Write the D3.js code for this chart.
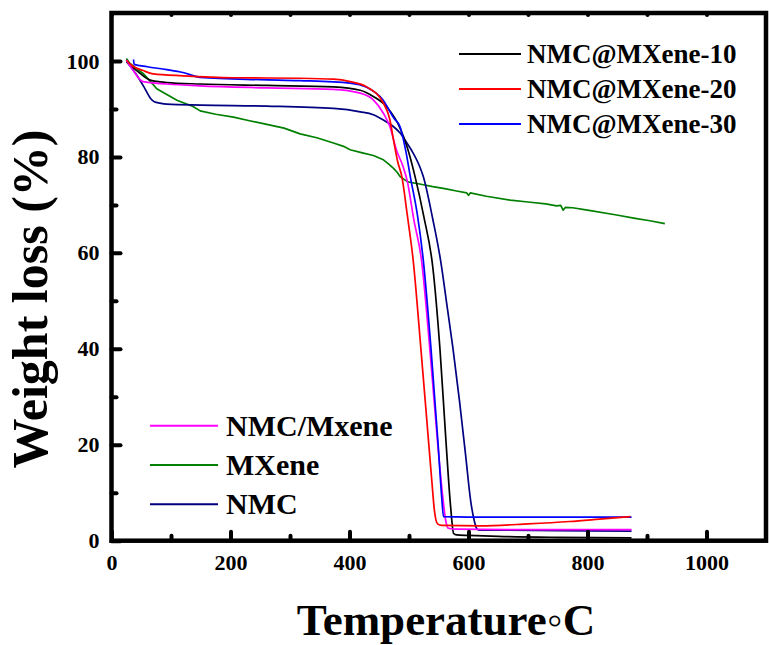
<!DOCTYPE html>
<html><head><meta charset="utf-8">
<script src="https://cdn.jsdelivr.net/npm/d3@7"></script>
<style>
body{margin:0;background:#fff}
svg{display:block}
</style>
</head><body>
<svg id="chart" width="769" height="645"></svg>
<script>
// ---------- data ----------
const xMajorTicks = [0, 200, 400, 600, 800, 1000];
const xMinorTicks = [100, 300, 500, 700, 900];
const yMajorTicks = [0, 20, 40, 60, 80, 100];
const yMinorTicks = [10, 30, 50, 70, 90];

const seriesNames = ["NMC@MXene-10", "NMC@MXene-20", "NMC@MXene-30", "NMC/Mxene", "MXene", "NMC"];
const seriesColors = ["#000000", "#ff0000", "#0000ff", "#ff00ff", "#008000", "#000080"];

const tempM10 = [25, 35, 48, 65, 93, 149, 261, 373, 418, 440, 462, 485, 497, 510, 525, 540, 552, 562, 570, 575, 580, 600, 650, 750, 874];
const wM10    = [100.2, 98.8, 97.4, 96.0, 95.5, 95.2, 94.9, 94.6, 93.9, 92.6, 90.5, 86.0, 82.0, 76.0, 67.5, 57.0, 40.0, 21.0, 7.0, 1.5, 1.2, 1.1, 0.9, 0.7, 0.6];

const tempM20 = [25, 35, 53, 70, 121, 205, 317, 373, 401, 429, 457, 468, 474, 481, 488, 497, 507, 520, 530, 538, 543, 548, 555, 620, 700, 770, 830, 872];
const wM20    = [100.1, 99.0, 98.0, 97.3, 96.9, 96.5, 96.4, 96.2, 95.7, 94.6, 91.2, 87.7, 83.5, 79.0, 75.9, 68.0, 58.5, 40.0, 25.0, 13.0, 6.0, 3.5, 3.2, 3.1, 3.5, 4.0, 4.6, 5.0];

const tempM30 = [37, 38, 60, 93, 120, 149, 250, 317, 401, 429, 456, 475, 485, 495, 502, 514, 524, 537, 549, 555, 558, 600, 874];
const wM30    = [100.3, 99.3, 98.8, 98.2, 97.6, 96.6, 96.1, 95.9, 95.4, 94.5, 91.9, 88.0, 86.3, 81.0, 76.0, 68.0, 58.5, 40.0, 20.0, 9.0, 5.0, 4.9, 4.9];

const tempMix = [25, 35, 53, 93, 149, 261, 373, 418, 440, 457, 468, 479, 490, 497, 508, 521, 535, 547, 556, 562, 566, 580, 700, 874];
const wMix    = [100.2, 98.3, 95.7, 95.2, 94.8, 94.4, 94.1, 93.3, 91.9, 89.1, 86.3, 81.4, 78.0, 75.0, 67.0, 58.5, 40.0, 22.0, 10.0, 4.0, 2.6, 2.4, 2.3, 2.3];

const tempMX = [25, 30, 40, 53, 65, 76, 93, 110, 137, 149, 175, 205, 230, 261, 290, 317, 345, 373, 390, 401, 420, 440, 457, 465, 474, 480, 485, 498, 520, 540, 560, 580, 597, 600, 603, 630, 670, 700, 730, 748, 755, 759, 763, 775, 800, 849, 880, 905, 930];
const wMX    = [100.5, 99.6, 98.6, 97.4, 95.8, 94.2, 93.0, 91.8, 90.5, 89.6, 88.9, 88.3, 87.6, 86.8, 86.0, 84.8, 84.0, 82.9, 82.2, 81.5, 80.9, 80.3, 79.4, 78.6, 77.6, 76.8, 75.9, 74.8, 74.3, 73.8, 73.4, 72.9, 72.5, 72.0, 72.5, 71.8, 71.0, 70.6, 70.2, 69.8, 69.9, 68.9, 69.5, 69.4, 68.9, 67.9, 67.2, 66.7, 66.1];

const tempNMC = [25, 40, 55, 65, 72, 81.5, 93, 150, 261, 373, 418, 440, 457, 472, 485, 497, 507, 518, 524, 540, 553, 565, 574, 585, 595, 604, 610, 614, 618, 650, 750, 874];
const wNMC    = [99.9, 97.5, 94.5, 92.3, 91.5, 91.2, 91.0, 90.8, 90.6, 90.1, 89.4, 88.8, 87.7, 86.5, 85.0, 82.8, 80.8, 78.0, 75.9, 67.0, 58.5, 48.0, 40.0, 29.0, 18.0, 8.0, 4.0, 2.5, 2.2, 2.2, 2.1, 2.0];

const seriesTemps = [tempM10, tempM20, tempM30, tempMix, tempMX, tempNMC];
const seriesWeights = [wM10, wM20, wM30, wMix, wMX, wNMC];

const legendTop = [0, 1, 2];
const legendBottom = [3, 4, 5];

// ---------- drawing ----------
const FONT = "'Liberation Serif', 'Times New Roman', serif";
const svg = d3.select("#chart");
const x = d3.scaleLinear().domain([0, 1100]).range([111.5, 766]);
const y = d3.scaleLinear().domain([0, 110]).range([540.7, 13]);

svg.append("clipPath").attr("id", "clip").append("rect")
  .attr("x", x(0)).attr("y", y(110)).attr("width", x(1100) - x(0)).attr("height", y(0) - y(110));

const smooth = d3.line().x(d => x(d[0])).y(d => y(d[1])).curve(d3.curveMonotoneX);
const straight = d3.line().x(d => x(d[0])).y(d => y(d[1]));
const gLines = svg.append("g").attr("clip-path", "url(#clip)");
[4, 5, 0, 3, 2, 1].forEach(i => {
  const pts = seriesTemps[i].map((t, k) => [t, seriesWeights[i][k]]);
  gLines.append("path").attr("d", (i === 4 ? straight : smooth)(pts)).attr("fill", "none")
    .attr("stroke", seriesColors[i]).attr("stroke-width", 1.7).attr("stroke-linejoin", "round");
});

function styleAxis(g) {
  g.attr("font-family", null).attr("font-size", null);
  g.select(".domain").remove();
  g.selectAll(".tick line").attr("stroke", "#000").attr("stroke-width", 4).attr("stroke-linecap", "round");
  g.selectAll(".tick text").style("font-family", FONT).style("font-weight", "bold").style("font-size", "22px").attr("fill", "#000");
}

svg.append("g").attr("transform", `translate(0,${y(0)})`)
  .call(d3.axisBottom(x).tickValues(xMajorTicks).tickSize(-9).tickPadding(14).tickFormat(d3.format("d")))
  .call(styleAxis);
svg.append("g").attr("transform", `translate(0,${y(0)})`)
  .call(d3.axisBottom(x).tickValues(xMinorTicks).tickSize(-5).tickFormat(""))
  .call(styleAxis);
svg.append("g").attr("transform", `translate(0,${y(110)})`)
  .call(d3.axisTop(x).tickValues(xMajorTicks.concat(xMinorTicks)).tickSize(-2).tickFormat(""))
  .call(styleAxis);
svg.append("g").attr("transform", `translate(${x(0)},0)`)
  .call(d3.axisLeft(y).tickValues(yMajorTicks).tickSize(-9).tickPadding(12).tickFormat(d3.format("d")))
  .call(styleAxis);
svg.append("g").attr("transform", `translate(${x(0)},0)`)
  .call(d3.axisLeft(y).tickValues(yMinorTicks).tickSize(-5).tickFormat(""))
  .call(styleAxis);

svg.append("rect").attr("x", x(0)).attr("y", y(110)).attr("width", x(1100) - x(0)).attr("height", y(0) - y(110))
  .attr("fill", "none").attr("stroke", "#000").attr("stroke-width", 4.5);

function label(sel, size) {
  return sel.style("font-family", FONT).style("font-weight", "bold").style("font-size", size + "px").attr("fill", "#000");
}

label(svg.append("text").attr("x", 446).attr("y", 635).attr("text-anchor", "middle"), 45).text("Temperature\u25E6C");
label(svg.append("text").attr("transform", "translate(47,299) rotate(-90)").attr("text-anchor", "middle"), 50).text("Weight loss (%)");

const lgTop = svg.append("g");
legendTop.forEach((si, k) => {
  const yy = 54 + k * 35;
  lgTop.append("line").attr("x1", 459).attr("x2", 521).attr("y1", yy).attr("y2", yy)
    .attr("stroke", seriesColors[si]).attr("stroke-width", 2);
  label(lgTop.append("text").attr("x", 527).attr("y", yy).attr("dy", "0.33em"), 27).text(seriesNames[si]);
});
const lgBot = svg.append("g");
legendBottom.forEach((si, k) => {
  const yy = 425.7 + k * 39.3;
  lgBot.append("line").attr("x1", 150).attr("x2", 218).attr("y1", yy).attr("y2", yy)
    .attr("stroke", seriesColors[si]).attr("stroke-width", 2);
  label(lgBot.append("text").attr("x", 226).attr("y", yy).attr("dy", "0.33em"), 30).text(seriesNames[si]);
});
</script>
</body></html>
